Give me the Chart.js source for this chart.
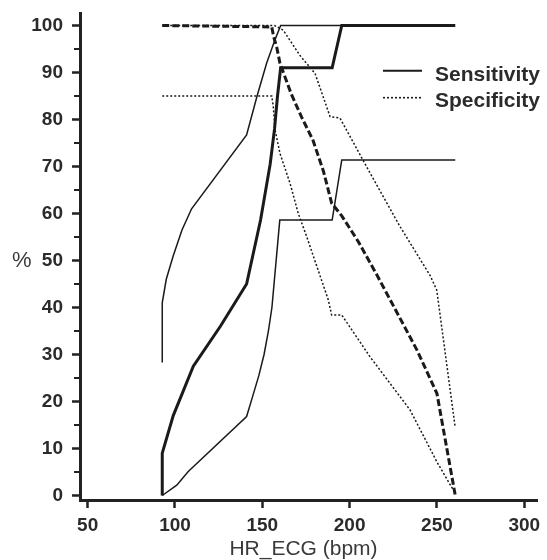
<!DOCTYPE html>
<html><head><meta charset="utf-8">
<script src="https://cdn.jsdelivr.net/npm/chart.js@4/dist/chart.umd.min.js"></script>
<style>html,body{margin:0;padding:0;background:#fff;}canvas{display:block;}</style>
</head><body>
<canvas id="c" width="547" height="560"></canvas>
<script>
const xTicks = [50, 100, 150, 200, 250, 300];
const yTicks = [0, 10, 20, 30, 40, 50, 60, 70, 80, 90, 100];
const yMinorTicks = [5, 15, 25, 35, 45, 55, 65, 75, 85, 95];
const legendLabels = ['Sensitivity', 'Specificity'];
const xTitle = 'HR_ECG (bpm)';
const yTitle = '%';

// Sensitivity (thick solid)
const sensX = [92.7, 92.7, 99, 110.5, 126, 141, 149, 154.5, 157, 158.7, 160.5, 190, 195.5, 260.5];
const sensY = [0, 9, 17, 27.5, 36, 45, 58.6, 70.5, 78, 85, 91, 91, 100, 100];
// Sensitivity upper bound (thin solid)
const sensUpX = [92.7, 92.7, 95, 99, 104, 109.5, 141, 147, 152.5, 157.3, 160.5, 195.5];
const sensUpY = [28.3, 41, 46, 51, 56.5, 61, 76.7, 85, 92, 97, 100, 100];
// Sensitivity lower bound (thin solid)
const sensLoX = [92.7, 101, 107.6, 141, 144, 148, 151, 153.5, 155.5, 160, 190, 195.5, 260.5];
const sensLoY = [0, 2.2, 5.1, 16.8, 20.5, 25.5, 30, 35, 40, 58.6, 58.6, 71.4, 71.4];
// Specificity (thick dashed)
const specX = [92.7, 155.4, 156.5, 158.3, 160.1, 166.5, 172.5, 179, 185, 189.7, 195.5, 205, 215.5, 238.5, 250, 260.5];
const specY = [100, 99.7, 97.6, 95.3, 92, 85.5, 80.5, 75.6, 69, 62.2, 59.5, 54, 47, 31, 21.7, 0];
// Specificity upper bound (thin dotted)
const specUpX = [92.7, 157, 162, 171.6, 180.2, 188.8, 194.5, 211.7, 228.9, 246.1, 249.9, 260.4];
const specUpY = [100, 100, 99, 93.6, 89.8, 80.6, 80.3, 68.6, 57.2, 46.8, 43.7, 14.6];
// Specificity lower bound (thin dotted)
const specLoX = [92.7, 155.4, 156.3, 157.3, 160.1, 165.9, 170.6, 175.4, 187.8, 189.7, 195.5, 211.7, 234.6, 249.9, 260.4];
const specLoY = [85, 85, 82.7, 77.8, 72.8, 66.4, 60, 55.1, 41.6, 38.4, 38.4, 29.5, 18.2, 7.2, 0.5];

function pts(xs, ys) { return xs.map((x, i) => ({ x: x, y: ys[i] })); }

const INK = '#1a1a1a';
const TXT = '#2b2b2b';
const tickFont = { family: "'Liberation Sans Narrow', 'Liberation Sans', Arial, sans-serif", size: 19, weight: 'bold' };

const decor = {
  id: 'decor',
  afterDraw(chart) {
    const ctx = chart.ctx;
    const ys = chart.scales.y;
    const left = chart.chartArea.left;
    ctx.save();
    ctx.strokeStyle = '#222';
    ctx.lineWidth = 2;
    yMinorTicks.forEach(v => {
      const py = Math.round(ys.getPixelForValue(v));
      ctx.beginPath();
      ctx.moveTo(left - 6, py);
      ctx.lineTo(left, py);
      ctx.stroke();
    });
    ctx.strokeStyle = INK;
    ctx.lineWidth = 2;
    ctx.setLineDash([]);
    ctx.beginPath(); ctx.moveTo(383, 70.7); ctx.lineTo(422, 70.7); ctx.stroke();
    ctx.lineWidth = 1.6;
    ctx.setLineDash([2, 2]);
    ctx.beginPath(); ctx.moveTo(383, 97.7); ctx.lineTo(422, 97.7); ctx.stroke();
    ctx.setLineDash([]);
    ctx.fillStyle = TXT;
    ctx.font = "bold 21px 'Liberation Sans', Arial, sans-serif";
    ctx.textAlign = 'left';
    ctx.textBaseline = 'alphabetic';
    ctx.fillText(legendLabels[0], 435, 81);
    ctx.fillText(legendLabels[1], 435, 106.5);
    ctx.font = "21px 'Liberation Sans', Arial, sans-serif";
    ctx.fillStyle = '#3a3a3a';
    ctx.textAlign = 'center';
    ctx.fillText(xTitle, 303.5, 555);
    ctx.textAlign = 'left';
    ctx.font = "22px 'Liberation Sans', Arial, sans-serif";
    ctx.fillText(yTitle, 12, 267);
    ctx.restore();
  }
};

new Chart(document.getElementById('c'), {
  type: 'line',
  data: {
    datasets: [
      { label: 'Sensitivity', data: pts(sensX, sensY), borderColor: INK, borderWidth: 3 },
      { label: 'Specificity', data: pts(specX, specY), borderColor: INK, borderWidth: 3, borderDash: [7, 3] },
      { label: 'Sensitivity upper', data: pts(sensUpX, sensUpY), borderColor: INK, borderWidth: 1.5 },
      { label: 'Sensitivity lower', data: pts(sensLoX, sensLoY), borderColor: INK, borderWidth: 1.5 },
      { label: 'Specificity upper', data: pts(specUpX, specUpY), borderColor: INK, borderWidth: 1.5, borderDash: [2, 2] },
      { label: 'Specificity lower', data: pts(specLoX, specLoY), borderColor: INK, borderWidth: 1.5, borderDash: [2, 2] }
    ]
  },
  options: {
    responsive: false,
    animation: false,
    devicePixelRatio: 1,
    layout: { padding: { top: 13, right: 10, left: 0, bottom: 0 } },
    plugins: { legend: { display: false }, tooltip: { enabled: false } },
    elements: { point: { radius: 0 }, line: { tension: 0, fill: false } },
    scales: {
      x: {
        type: 'linear', min: 45.6, max: 307.3,
        afterBuildTicks: s => { s.ticks = xTicks.map(v => ({ value: v })); },
        afterFit: s => { s.height = 60; s.paddingLeft = 0; s.paddingRight = 0; },
        border: { display: true, width: 3, color: '#222' },
        grid: { display: true, drawOnChartArea: false, drawTicks: true, tickLength: 8, tickWidth: 2.5, tickColor: '#222' },
        ticks: { font: tickFont, color: TXT, padding: 6, maxRotation: 0, autoSkip: false }
      },
      y: {
        type: 'linear', min: -0.96, max: 102.66,
        afterBuildTicks: s => { s.ticks = yTicks.map(v => ({ value: v })); },
        afterFit: s => { s.width = 80; s.paddingTop = 0; s.paddingBottom = 0; },
        border: { display: true, width: 3, color: '#222' },
        grid: { display: true, drawOnChartArea: false, drawTicks: true, tickLength: 8, tickWidth: 2.5, tickColor: '#222' },
        ticks: { font: tickFont, color: TXT, padding: 9, autoSkip: false }
      }
    }
  },
  plugins: [decor]
});
</script>
</body></html>
